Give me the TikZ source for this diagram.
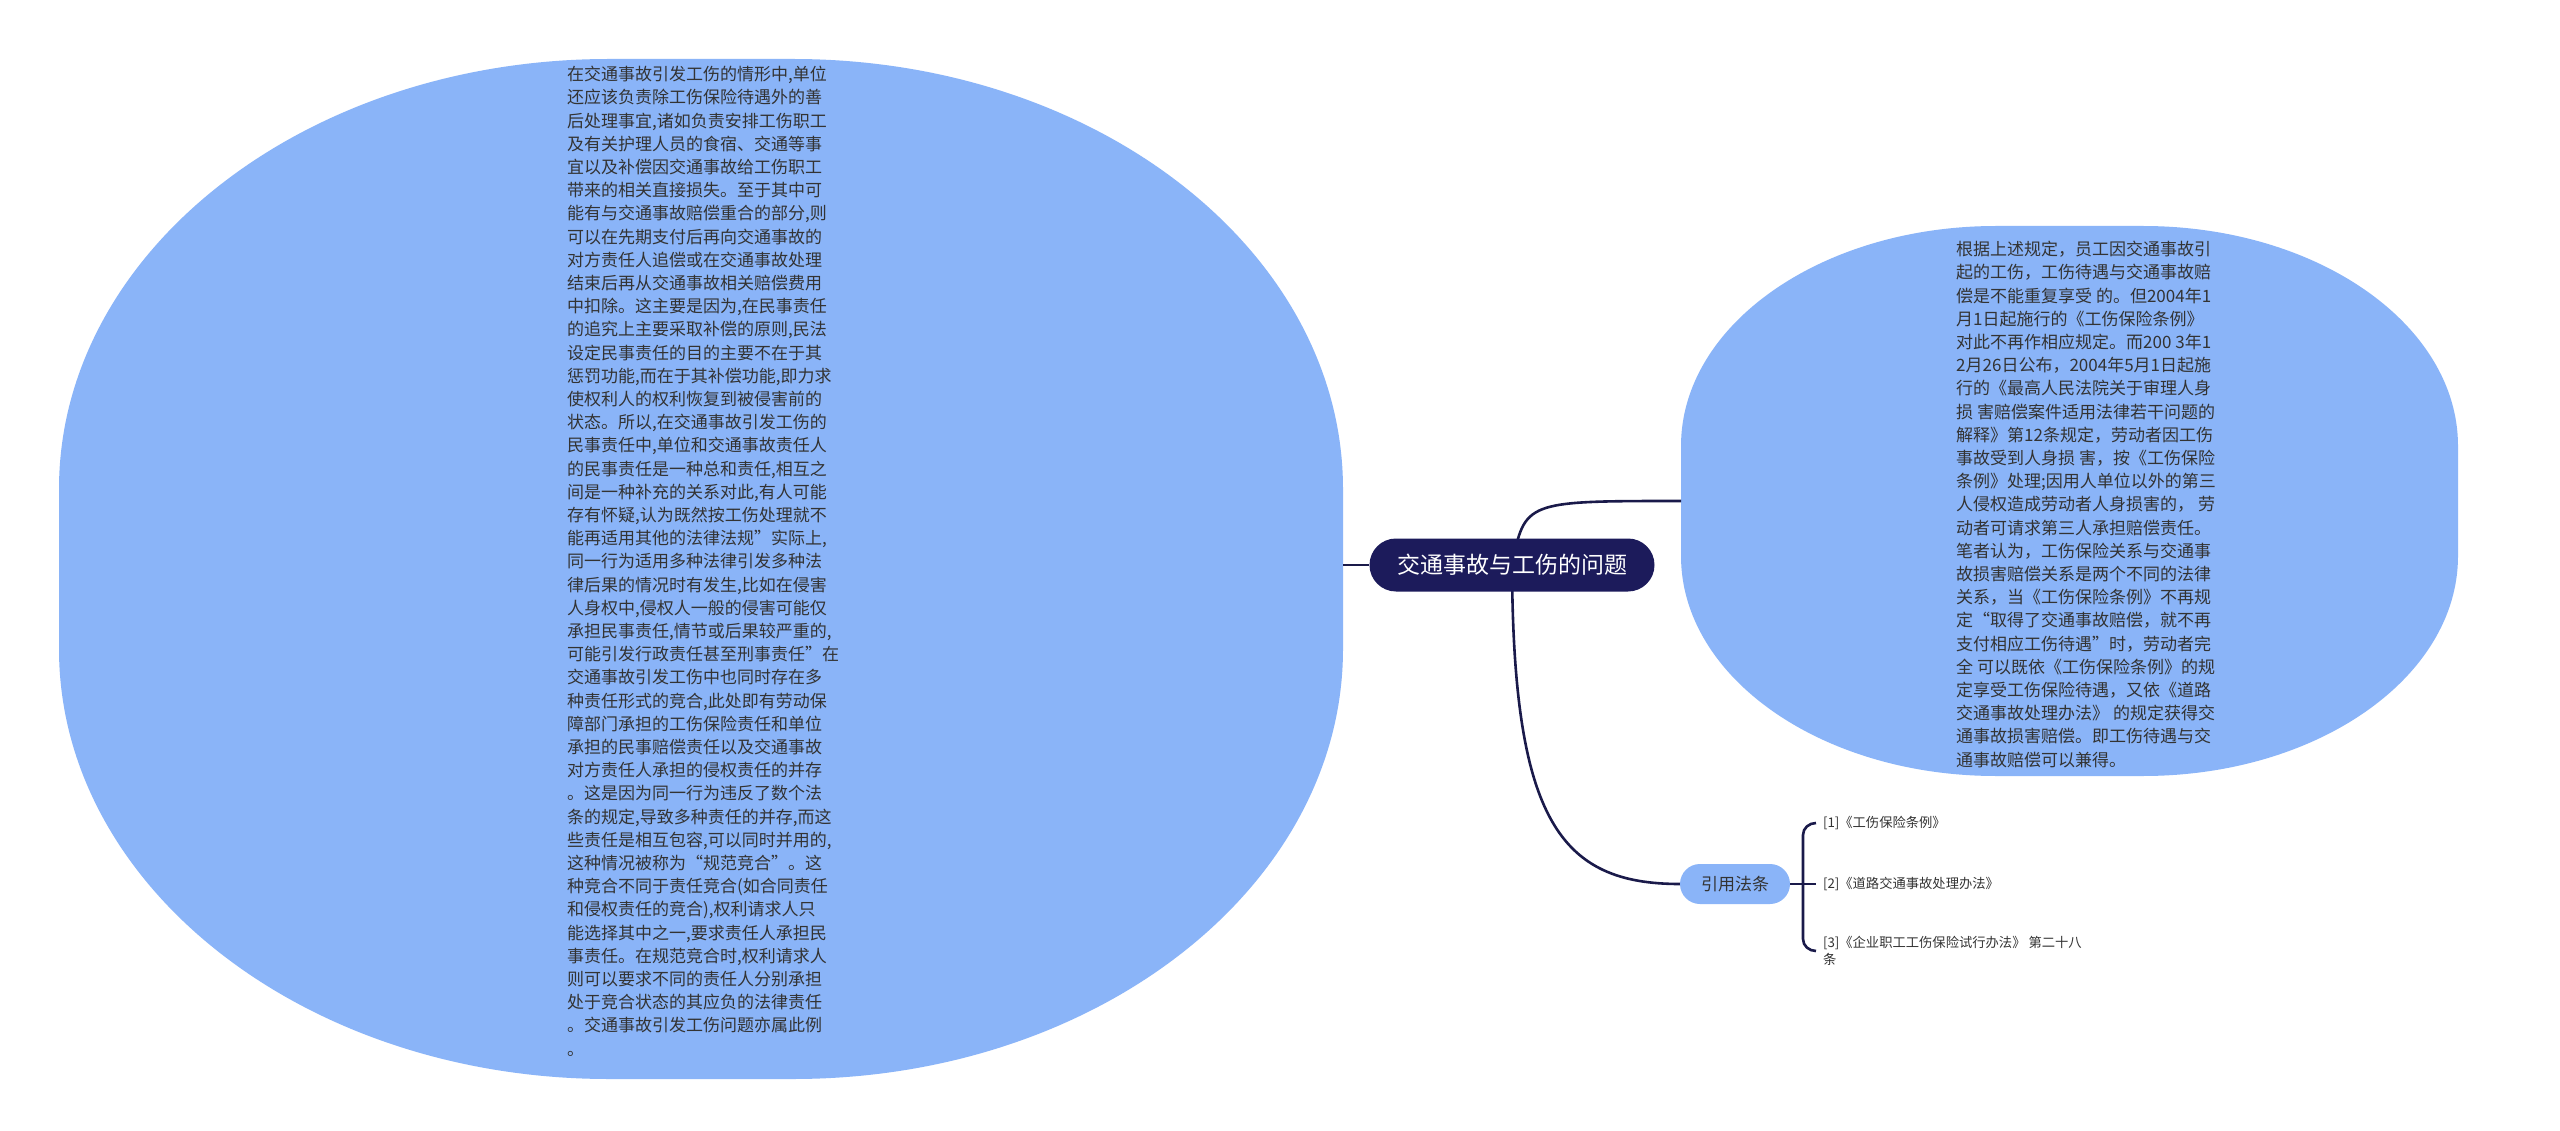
\documentclass[tikz,border=0pt]{standalone}
\usepackage{fontspec}
\setmainfont{Noto Sans CJK SC}
\usetikzlibrary{backgrounds}
\definecolor{shapeblue}{HTML}{8AB4F8}
\definecolor{navy}{HTML}{1C1B5B}
\definecolor{linenavy}{HTML}{1A1A4A}
\definecolor{txt}{HTML}{333333}
\begin{document}
\begin{tikzpicture}[x=1pt,y=1pt,
  bodytext/.style={font=\fontsize{17}{23.2}\selectfont, text=txt, align=left, inner sep=0pt, anchor=north west},
  central/.style={fill=navy, text=white, font=\fontsize{23}{28}\selectfont, rounded corners=26.5pt, minimum width=285pt, minimum height=53pt, inner sep=0pt},
  refnode/.style={fill=shapeblue, text=txt, font=\fontsize{17}{20}\selectfont, rounded corners=20pt, minimum width=110pt, minimum height=40pt, inner sep=0pt},
  reftext/.style={font=\fontsize{13.3}{16.7}\selectfont, text=txt, align=left, inner sep=0pt, outer sep=7pt, anchor=west},
  conn/.style={draw=linenavy, line width=2.6pt},
  blob/.style={fill=shapeblue}]
\useasboundingbox (0,0) rectangle (2560,-1131);

\node[bodytext] (lefttext) at (567,-66) {在交通事故引发工伤的情形中,单位\\
还应该负责除工伤保险待遇外的善\\
后处理事宜,诸如负责安排工伤职工\\
及有关护理人员的食宿、交通等事\\
宜以及补偿因交通事故给工伤职工\\
带来的相关直接损失。至于其中可\\
能有与交通事故赔偿重合的部分,则\\
可以在先期支付后再向交通事故的\\
对方责任人追偿或在交通事故处理\\
结束后再从交通事故相关赔偿费用\\
中扣除。这主要是因为,在民事责任\\
的追究上主要采取补偿的原则,民法\\
设定民事责任的目的主要不在于其\\
惩罚功能,而在于其补偿功能,即力求\\
使权利人的权利恢复到被侵害前的\\
状态。所以,在交通事故引发工伤的\\
民事责任中,单位和交通事故责任人\\
的民事责任是一种总和责任,相互之\\
间是一种补充的关系对此,有人可能\\
存有怀疑,认为既然按工伤处理就不\\
能再适用其他的法律法规"实际上,\\
同一行为适用多种法律引发多种法\\
律后果的情况时有发生,比如在侵害\\
人身权中,侵权人一般的侵害可能仅\\
承担民事责任,情节或后果较严重的,\\
可能引发行政责任甚至刑事责任"在\\
交通事故引发工伤中也同时存在多\\
种责任形式的竞合,此处即有劳动保\\
障部门承担的工伤保险责任和单位\\
承担的民事赔偿责任以及交通事故\\
对方责任人承担的侵权责任的并存\\
。这是因为同一行为违反了数个法\\
条的规定,导致多种责任的并存,而这\\
些责任是相互包容,可以同时并用的,\\
这种情况被称为“规范竞合”。这\\
种竞合不同于责任竞合(如合同责任\\
和侵权责任的竞合),权利请求人只\\
能选择其中之一,要求责任人承担民\\
事责任。在规范竞合时,权利请求人\\
则可以要求不同的责任人分别承担\\
处于竞合状态的其应负的法律责任\\
。交通事故引发工伤问题亦属此例\\
。};

\node[bodytext] (righttext) at (1956,-241) {根据上述规定，员工因交通事故引\\
起的工伤，工伤待遇与交通事故赔\\
偿是不能重复享受 的。但2004年1\\
月1日起施行的《工伤保险条例》\\
对此不再作相应规定。而200 3年1\\
2月26日公布，2004年5月1日起施\\
行的《最高人民法院关于审理人身\\
损 害赔偿案件适用法律若干问题的\\
解释》第12条规定，劳动者因工伤\\
事故受到人身损 害，按《工伤保险\\
条例》处理;因用人单位以外的第三\\
人侵权造成劳动者人身损害的， 劳\\
动者可请求第三人承担赔偿责任。\\
笔者认为，工伤保险关系与交通事\\
故损害赔偿关系是两个不同的法律\\
关系，当《工伤保险条例》不再规\\
定“取得了交通事故赔偿，就不再\\
支付相应工伤待遇”时，劳动者完\\
全 可以既依《工伤保险条例》的规\\
定享受工伤保险待遇，又依《道路\\
交通事故处理办法》 的规定获得交\\
通事故损害赔偿。即工伤待遇与交\\
通事故赔偿可以兼得。};

\node[central] (root) at (1512,-565) {交通事故与工伤的问题};
\node[refnode] (ref) at (1735,-884) {引用法条};
\node[reftext] (r1) at (1816,-823) {[1]《工伤保险条例》};
\node[reftext] (r2) at (1816,-884) {[2]《道路交通事故处理办法》};
\node[reftext] (r3) at (1816,-951) {[3]《企业职工工伤保险试行办法》 第二十八\\条};

\coordinate (leftE) at (1343,-565);
\coordinate (rightE) at (1681,-501);
\coordinate (brk) at (1803,-884);

\begin{pgfonlayer}{background}
  \fill[white] (0,0) rectangle (2560,-1131);
  % left blob: x 59..1343, y 59..1079, corners 550 x 430
  \fill[blob] (59,-489) arc[start angle=180,end angle=90,x radius=550,y radius=430]
    -- (793,-59) arc[start angle=90,end angle=0,x radius=550,y radius=430]
    -- (1343,-649) arc[start angle=0,end angle=-90,x radius=550,y radius=430]
    -- (609,-1079) arc[start angle=270,end angle=180,x radius=550,y radius=430] -- cycle;
  % right blob: x 1681..2458, y 226..776, corners 315 x 220
  \fill[blob] (1681,-446) arc[start angle=180,end angle=90,x radius=315,y radius=220]
    -- (2143,-226) arc[start angle=90,end angle=0,x radius=315,y radius=220]
    -- (2458,-556) arc[start angle=0,end angle=-90,x radius=315,y radius=220]
    -- (1996,-776) arc[start angle=270,end angle=180,x radius=315,y radius=220] -- cycle;
  \draw[conn] (leftE) -- (root.west);
  \draw[conn] (root.center) .. controls (1525,-501) .. (rightE);
  \draw[conn] (root.center) .. controls (1513,-820) and (1560,-884) .. (ref.west);
  \draw[conn] (ref.east) -- (brk);
  \draw[conn] (brk) -- (1803,-835) to[out=90,in=180] (r1.west);
  \draw[conn] (brk) -- (r2.west);
  \draw[conn] (brk) -- (1803,-939) to[out=-90,in=180] (r3.west);
\end{pgfonlayer}
\end{tikzpicture}
\end{document}
